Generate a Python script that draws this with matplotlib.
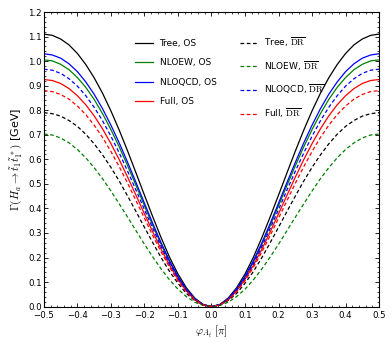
import numpy as np
import matplotlib
matplotlib.use("Agg")
from matplotlib import pyplot as plt
from matplotlib.ticker import MultipleLocator

plt.rcParams['mathtext.fontset'] = 'cm'
plt.rcParams['font.family'] = 'DejaVu Sans'

# half curves, phi = 0 ... 0.5 (curves are symmetric about phi = 0)
phi_half = [0.0, 0.025, 0.05, 0.075, 0.1, 0.125, 0.15, 0.175, 0.2, 0.225, 0.25,
            0.275, 0.3, 0.325, 0.35, 0.375, 0.4, 0.425, 0.45, 0.475, 0.5]

tree_os = [0.0, 0.009, 0.035, 0.077, 0.133, 0.201, 0.280, 0.365, 0.454, 0.544, 0.633,
           0.718, 0.797, 0.869, 0.932, 0.986, 1.031, 1.066, 1.090, 1.105, 1.110]
nloew_os = [0.0, 0.008, 0.031, 0.069, 0.120, 0.182, 0.253, 0.330, 0.411, 0.493, 0.573,
            0.650, 0.721, 0.786, 0.844, 0.893, 0.933, 0.965, 0.987, 1.001, 1.005]
nloqcd_os = [0.0, 0.008, 0.032, 0.071, 0.123, 0.187, 0.259, 0.338, 0.421, 0.505, 0.587,
             0.666, 0.739, 0.806, 0.865, 0.915, 0.957, 0.989, 1.012, 1.025, 1.030]
full_os = [0.0, 0.007, 0.029, 0.064, 0.111, 0.168, 0.233, 0.304, 0.378, 0.453, 0.527,
           0.598, 0.664, 0.724, 0.777, 0.822, 0.859, 0.888, 0.909, 0.921, 0.925]
tree_dr = [0.0, 0.006, 0.025, 0.054, 0.095, 0.143, 0.199, 0.260, 0.323, 0.387, 0.450,
           0.511, 0.567, 0.618, 0.663, 0.702, 0.734, 0.758, 0.776, 0.786, 0.790]
nloew_dr = [0.0, 0.005, 0.018, 0.041, 0.071, 0.109, 0.153, 0.202, 0.254, 0.309, 0.364,
            0.418, 0.471, 0.521, 0.566, 0.606, 0.640, 0.667, 0.687, 0.699, 0.703]
nloqcd_dr = [0.0, 0.008, 0.030, 0.067, 0.116, 0.175, 0.244, 0.318, 0.395, 0.474, 0.551,
             0.625, 0.694, 0.757, 0.812, 0.859, 0.898, 0.928, 0.950, 0.963, 0.967]
full_dr = [0.0, 0.007, 0.027, 0.061, 0.105, 0.160, 0.222, 0.289, 0.360, 0.431, 0.502,
           0.569, 0.632, 0.689, 0.739, 0.782, 0.817, 0.845, 0.864, 0.876, 0.880]

def full(v):
    # mirror the half curve onto negative phi
    v = np.array(v)
    return np.concatenate([v[::-1], v[1:]])

phi = np.concatenate([-np.array(phi_half)[::-1], np.array(phi_half)[1:]])

fig = plt.figure(figsize=(3.92, 3.43), dpi=100)
ax = fig.add_axes([0.112, 0.106, 0.855, 0.859])

lw = 0.9
ds = (0, (3, 2))
ax.plot(phi, full(tree_os), color='black', lw=lw, label='Tree, OS')
ax.plot(phi, full(nloew_os), color='green', lw=lw, label='NLOEW, OS')
ax.plot(phi, full(nloqcd_os), color='blue', lw=lw, label='NLOQCD, OS')
ax.plot(phi, full(full_os), color='red', lw=lw, label='Full, OS')
ax.plot(phi, full(tree_dr), color='black', lw=lw, ls=ds, label=r'Tree, $\overline{\rm DR}$')
ax.plot(phi, full(nloew_dr), color='green', lw=lw, ls=ds, label=r'NLOEW, $\overline{\rm DR}$')
ax.plot(phi, full(nloqcd_dr), color='blue', lw=lw, ls=ds, label=r'NLOQCD, $\overline{\rm DR}$')
ax.plot(phi, full(full_dr), color='red', lw=lw, ls=ds, label=r'Full, $\overline{\rm DR}$')

ax.set_xlim(-0.5, 0.5)
ax.set_ylim(0.0, 1.2)
ax.xaxis.set_major_locator(MultipleLocator(0.1))
ax.xaxis.set_minor_locator(MultipleLocator(0.02))
ax.yaxis.set_major_locator(MultipleLocator(0.1))
ax.yaxis.set_minor_locator(MultipleLocator(0.02))
ax.tick_params(which='both', direction='in', top=True, right=True, labelsize=6.2)
ax.tick_params(axis='x', pad=3)
ax.tick_params(axis='y', pad=1.5)
ax.tick_params(which='major', length=3, width=0.6)
ax.tick_params(which='minor', length=1.5, width=0.5)
for s in ax.spines.values():
    s.set_linewidth(0.8)

ax.set_xlabel(r'$\varphi_{A_t}\ [\pi]$', fontsize=8, labelpad=3)
ax.set_ylabel(r'$\Gamma(H_a\rightarrow\tilde{t}_1\tilde{t}_1^{\,*})$ [GeV]', fontsize=8, labelpad=2)

leg = ax.legend(ncol=2, frameon=False, fontsize=6.5, loc='upper center',
                bbox_to_anchor=(0.555, 0.935), borderpad=0, labelspacing=1.15,
                handlelength=2.0, handletextpad=0.7, columnspacing=2.6)

plt.savefig('out.png', dpi=100)
